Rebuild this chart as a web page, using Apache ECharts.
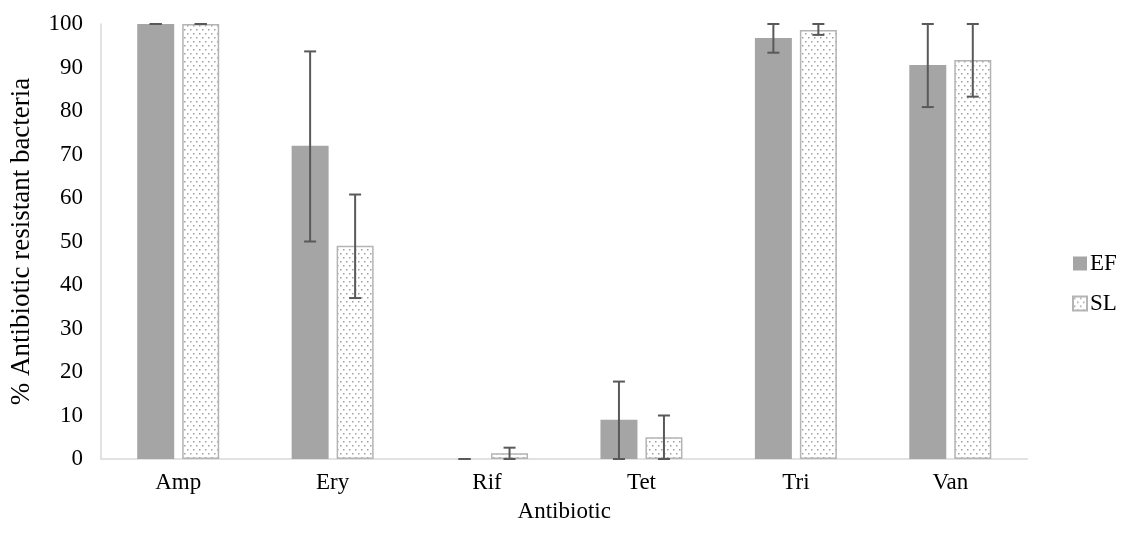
<!DOCTYPE html>
<html>
<head>
<meta charset="utf-8">
<script src="https://cdn.jsdelivr.net/npm/echarts@6/dist/echarts.min.js"></script>
<style>
html,body{margin:0;padding:0;background:#fff;}
#chart{width:1122px;height:533px;}
</style>
</head>
<body>
<div id="chart"></div>
<script>
const categories = ['Amp', 'Ery', 'Rif', 'Tet', 'Tri', 'Van'];
const seriesNames = ['EF', 'SL'];
const efValues = [100, 72, 0, 9, 96.8, 90.6];
const efLow = [100, 50, 0, 0, 93.4, 80.9];
const efHigh = [100, 93.7, 0, 17.8, 100, 100];
const slValues = [100, 49, 1.3, 5, 98.6, 91.7];
const slLow = [100, 37, 0, 0, 97.5, 83.3];
const slHigh = [100, 60.8, 2.6, 10, 100, 100];
const yTicks = [0, 10, 20, 30, 40, 50, 60, 70, 80, 90, 100];

const FONT = '"Liberation Serif", "Times New Roman", serif';

// dotted pattern for SL
const pat = document.createElement('canvas');
pat.width = 6; pat.height = 8;
const pctx = pat.getContext('2d');
pctx.fillStyle = '#ffffff';
pctx.fillRect(0, 0, 6, 8);
pctx.fillStyle = '#a0a0a0';
pctx.fillRect(1, 1, 1.5, 1.5);
pctx.fillRect(4, 5, 1.5, 1.5);

const chart = echarts.init(document.getElementById('chart'), null, {renderer: 'canvas'});

const BAR_W = 37;
const BAR_GAP = 8;

function errSeries(name, low, high, side) {
  return {
    type: 'custom',
    name: name + ' err',
    z: 10,
    silent: true,
    legendHoverLink: false,
    data: categories.map((c, i) => [i, low[i], high[i]]),
    renderItem: function (params, api) {
      const i = api.value(0);
      const pLow = api.coord([i, api.value(1)]);
      const pHigh = api.coord([i, api.value(2)]);
      const x = pLow[0] + side * (BAR_W + BAR_GAP) / 2;
      const cap = 6;
      const style = {stroke: '#595959', lineWidth: 2};
      return {
        type: 'group',
        children: [
          {type: 'line', shape: {x1: x, y1: pLow[1], x2: x, y2: pHigh[1]}, style: style},
          {type: 'line', shape: {x1: x - cap, y1: pLow[1], x2: x + cap, y2: pLow[1]}, style: style},
          {type: 'line', shape: {x1: x - cap, y1: pHigh[1], x2: x + cap, y2: pHigh[1]}, style: style}
        ]
      };
    }
  };
}

chart.setOption({
  animation: false,
  backgroundColor: '#ffffff',
  grid: {left: 99, right: 94.5, top: 24, bottom: 74, containLabel: false},
  legend: {
    data: seriesNames,
    orient: 'vertical',
    left: 1067,
    top: 247,
    itemWidth: 14,
    itemHeight: 14,
    itemGap: 17,
    textStyle: {fontFamily: FONT, fontSize: 23, color: '#000', padding: [0, 0, 0, -2]},
    icon: 'rect'
  },
  xAxis: {
    type: 'category',
    data: categories,
    name: 'Antibiotic',
    nameLocation: 'middle',
    nameGap: 41,
    nameTextStyle: {fontFamily: FONT, fontSize: 23, color: '#000'},
    axisLine: {show: true, lineStyle: {color: '#D9D9D9', width: 1.5}},
    axisTick: {show: false},
    axisLabel: {fontFamily: FONT, fontSize: 23, color: '#000', margin: 12}
  },
  yAxis: {
    type: 'value',
    min: 0,
    max: 100,
    interval: 10,
    name: '% Antibiotic resistant bacteria',
    nameLocation: 'middle',
    nameGap: 66,
    nameTextStyle: {fontFamily: FONT, fontSize: 27, color: '#000'},
    axisLine: {show: true, lineStyle: {color: '#D9D9D9', width: 1.5}},
    axisTick: {show: false},
    splitLine: {show: false},
    axisLabel: {fontFamily: FONT, fontSize: 23, color: '#000', margin: 18,
      formatter: function (v) { return yTicks.indexOf(v) >= 0 ? String(v) : ''; }}
  },
  series: [
    {
      name: 'EF',
      type: 'bar',
      data: efValues,
      barWidth: BAR_W,
      barGap: (BAR_GAP / BAR_W * 100) + '%',
      itemStyle: {color: '#A5A5A5'}
    },
    {
      name: 'SL',
      type: 'bar',
      data: slValues,
      barWidth: BAR_W,
      itemStyle: {color: {image: pat, repeat: 'repeat'}, borderColor: '#B4B4B4', borderWidth: 1.5}
    },
    errSeries('EF', efLow, efHigh, -1),
    errSeries('SL', slLow, slHigh, 1)
  ]
});
</script>
</body>
</html>
